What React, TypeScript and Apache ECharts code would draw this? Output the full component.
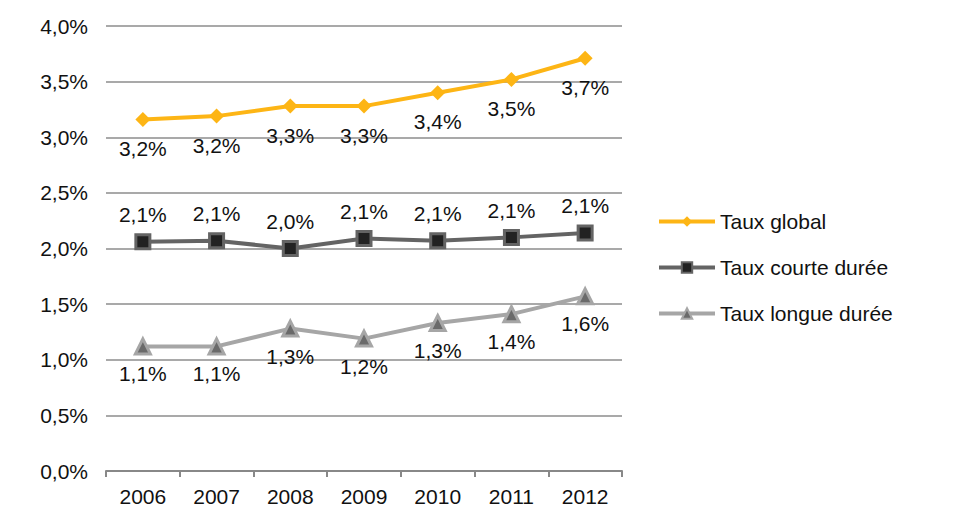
import React, { useEffect, useRef } from "react";
import * as echarts from "echarts";

const years = ["2006", "2007", "2008", "2009", "2010", "2011", "2012"];
const tauxGlobal = [3.16, 3.19, 3.28, 3.28, 3.4, 3.52, 3.71];
const tauxCourte = [2.06, 2.07, 2.0, 2.09, 2.07, 2.1, 2.14];
const tauxLongue = [1.12, 1.12, 1.28, 1.19, 1.33, 1.41, 1.57];

const fmt = (v: number) => v.toFixed(1).replace(".", ",") + "%";
const FONT = "Liberation Sans, Arial, sans-serif";
const FS = 21;

export default function App() {
  const ref = useRef<HTMLDivElement>(null);
  useEffect(() => {
    if (!ref.current) return;
    const chart = echarts.init(ref.current, undefined, { renderer: "svg" });
    const labelStyle = {
      show: true,
      fontSize: FS,
      color: "#111",
      fontFamily: FONT,
      formatter: (p: any) => fmt(p.value),
    };
    chart.setOption({
      animation: false,
      textStyle: { fontFamily: FONT },
      grid: { left: 106, right: 347, top: 26, bottom: 54, containLabel: false },
      legend: {
        orient: "vertical",
        left: 652,
        top: 206,
        itemWidth: 56,
        itemHeight: 13,
        itemGap: 25,
        lineStyle: { width: 4 },
        textStyle: { fontSize: FS, color: "#111", fontFamily: FONT },
        data: ["Taux global", "Taux courte durée", "Taux longue durée"],
      },
      xAxis: {
        type: "category",
        data: years,
        boundaryGap: true,
        axisLine: { lineStyle: { color: "#888", width: 2 } },
        axisTick: { show: true, length: 6, lineStyle: { color: "#888", width: 2 } },
        axisLabel: { fontSize: FS, color: "#111", margin: 15, fontFamily: FONT },
      },
      yAxis: {
        type: "value",
        min: 0,
        max: 4,
        interval: 0.5,
        axisLine: { show: false },
        axisTick: { show: false },
        splitLine: { lineStyle: { color: "#8c8c8c", width: 1.5 } },
        axisLabel: {
          fontSize: FS,
          color: "#111",
          margin: 18,
          fontFamily: FONT,
          formatter: (v: number) => fmt(v),
        },
      },
      series: [
        {
          name: "Taux global",
          type: "line",
          data: tauxGlobal,
          symbol: "diamond",
          symbolSize: 15,
          lineStyle: { color: "#FDB515", width: 4 },
          itemStyle: { color: "#FDB515" },
          label: { ...labelStyle, position: "bottom", distance: 11 },
          z: 3,
        },
        {
          name: "Taux courte durée",
          type: "line",
          data: tauxCourte,
          symbol: "rect",
          symbolSize: 14,
          lineStyle: { color: "#646464", width: 4 },
          itemStyle: { color: "#222", borderColor: "#646464", borderWidth: 3 },
          label: { ...labelStyle, position: "top", distance: 8 },
          z: 2,
        },
        {
          name: "Taux longue durée",
          type: "line",
          data: tauxLongue,
          symbol: "triangle",
          symbolSize: 15,
          lineStyle: { color: "#A6A6A6", width: 4 },
          itemStyle: { color: "#6a6a6a", borderColor: "#A6A6A6", borderWidth: 3 },
          label: { ...labelStyle, position: "bottom", distance: 8 },
          z: 2,
        },
      ],
    });
    return () => chart.dispose();
  }, []);
  return (
    <div
      ref={ref}
      style={{ position: "fixed", left: 0, top: 0, width: 969, height: 525, background: "#fff" }}
    />
  );
}
